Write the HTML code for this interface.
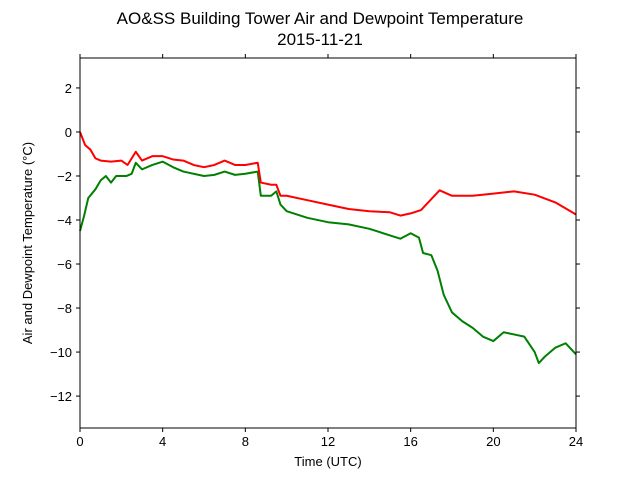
<!DOCTYPE html>
<html><head><meta charset="utf-8"><style>
body{margin:0;background:#fff;}
svg{display:block;font-family:"Liberation Sans","DejaVu Sans",sans-serif;}
</style></head><body>
<svg id="chart" width="640" height="480">
<text x="320" y="24" text-anchor="middle" font-size="17">AO&amp;SS Building Tower Air and Dewpoint Temperature</text>
<text x="320" y="45" text-anchor="middle" font-size="17">2015-11-21</text>
<text x="328" y="466" text-anchor="middle" font-size="13">Time (UTC)</text>
<text transform="translate(32,243) rotate(-90)" text-anchor="middle" font-size="13">Air and Dewpoint Temperature (°C)</text>
<g id="plot"></g>
</svg>
<script>
const xTicks=[0,4,8,12,16,20,24];
const yTicks=[-12,-10,-8,-6,-4,-2,0,2];
const airHours=[0,0.25,0.5,0.75,1,1.5,2,2.3,2.7,3,3.5,4,4.5,5,5.5,6,6.5,7,7.5,8,8.6,8.75,9.25,9.5,9.7,10,11,12,13,14,15,15.5,16,16.5,17.4,18,19,20,21,22,23,24];
const airTemp=[0,-0.6,-0.8,-1.2,-1.3,-1.35,-1.3,-1.5,-0.9,-1.3,-1.1,-1.1,-1.25,-1.3,-1.5,-1.6,-1.5,-1.3,-1.5,-1.5,-1.4,-2.3,-2.4,-2.4,-2.9,-2.9,-3.1,-3.3,-3.5,-3.6,-3.65,-3.8,-3.7,-3.55,-2.65,-2.9,-2.9,-2.8,-2.7,-2.85,-3.2,-3.75];
const dewHours=[0,0.2,0.4,0.75,1,1.25,1.5,1.75,2.25,2.5,2.7,3,3.5,4,4.5,5,6,6.5,7,7.5,8,8.6,8.75,9.25,9.5,9.7,10,11,12,13,14,15,15.5,16,16.4,16.6,17,17.3,17.6,18,18.5,19,19.5,20,20.5,21,21.5,22,22.2,22.5,23,23.5,24];
const dewTemp=[-4.5,-3.8,-3,-2.6,-2.2,-2,-2.3,-2,-2,-1.9,-1.4,-1.7,-1.5,-1.35,-1.6,-1.8,-2,-1.95,-1.8,-1.95,-1.9,-1.8,-2.9,-2.9,-2.7,-3.3,-3.6,-3.9,-4.1,-4.2,-4.4,-4.7,-4.85,-4.6,-4.8,-5.5,-5.6,-6.3,-7.4,-8.2,-8.6,-8.9,-9.3,-9.5,-9.1,-9.2,-9.3,-10,-10.5,-10.2,-9.8,-9.6,-10.1];
const L=80,R=576,T=58,B=428,ymin=-13.45,ymax=3.36;
const X=h=>L+(h/24)*(R-L);
const Y=v=>T+(ymax-v)/(ymax-ymin)*(B-T);
const NS="http://www.w3.org/2000/svg";
const g=document.getElementById('plot');
function mk(t,a){const e=document.createElementNS(NS,t);for(const k in a)e.setAttribute(k,a[k]);g.appendChild(e);return e;}
function series(hs,vs,color,name){
 const p=mk('polyline',{points:hs.map((h,i)=>X(h)+','+Y(vs[i])).join(' '),fill:'none',stroke:color,'stroke-width':2,'stroke-linejoin':'round'});
 
 
}
series(dewHours,dewTemp,'#008000','dewpoint-line');
series(airHours,airTemp,'#ff0000','air-temperature-line');
const fr=mk('rect',{x:L,y:T,width:R-L,height:B-T,fill:'none',stroke:'#000','stroke-width':1});


xTicks.forEach(t=>{
 const x=X(t);
 mk('line',{x1:x,x2:x,y1:B,y2:B+4,stroke:'#000'});
 mk('line',{x1:x,x2:x,y1:T,y2:T-4,stroke:'#000'});
 const tx=mk('text',{x:x,y:B+18,'text-anchor':'middle','font-size':13});
 tx.textContent=t;
 
 
});
yTicks.forEach(t=>{
 const y=Y(t);
 mk('line',{x1:L-4,x2:L,y1:y,y2:y,stroke:'#000'});
 mk('line',{x1:R,x2:R+4,y1:y,y2:y,stroke:'#000'});
 const tx=mk('text',{x:L-8,y:y+5,'text-anchor':'end','font-size':13});
 tx.textContent=t<0?'\u2212'+Math.abs(t):t;
 
 
});
</script>
</body></html>
